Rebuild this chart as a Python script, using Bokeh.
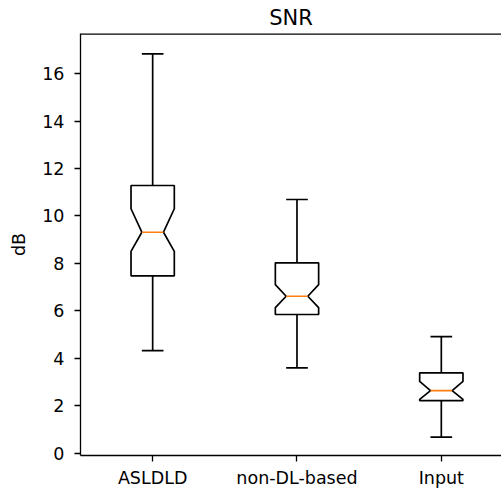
from bokeh.plotting import figure
from bokeh.models import Range1d, FixedTicker, Span
from bokeh.embed import file_html
from bokeh.resources import INLINE

# ---- data ----
categories = ["ASLDLD", "non-DL-based", "Input"]
positions = [1, 2, 3]
whisker_hi = [16.83, 10.69, 4.91]
q3 = [11.28, 8.02, 3.38]
notch_hi = [10.30, 7.10, 3.02]
median = [9.31, 6.61, 2.63]
notch_lo = [8.50, 6.13, 2.26]
q1 = [7.47, 5.84, 2.21]
whisker_lo = [4.32, 3.59, 0.67]
y_ticks = [0, 2, 4, 6, 8, 10, 12, 14, 16]

BOX_W = 0.3
FONT = "DejaVu Sans"
Y_LO, Y_HI = -0.105, 17.69

p = figure(
    frame_width=421, frame_height=422,
    output_backend="svg", toolbar_location=None,
    x_range=Range1d(0.5, 3.417), y_range=Range1d(Y_LO, Y_HI),
    title="SNR",
    min_border_left=80, min_border_right=0, min_border_top=33, min_border_bottom=35,
)
p.background_fill_color = "white"
p.border_fill_color = "white"
p.outline_line_color = None
p.xgrid.visible = False
p.ygrid.visible = False

p.title.align = "center"
p.title.offset = 5
p.title.text_font = FONT
p.title.text_font_size = "21px"
p.title.text_font_style = "normal"
p.title.text_color = "black"
p.title.standoff = 7

# boxes (notched)
xs, ys = [], []
for x, a, nl, m, nh, b in zip(positions, q1, notch_lo, median, notch_hi, q3):
    l, r = x - BOX_W / 2, x + BOX_W / 2
    nl_x, nr_x = x - BOX_W / 4, x + BOX_W / 4
    xs.append([l, l, nl_x, l, l, r, r, nr_x, r, r, l])
    ys.append([a, nl, m, nh, b, b, nh, m, nl, a, a])
p.patches(xs, ys, fill_color=None, line_color="black", line_width=1.7)

# whiskers
p.segment(x0=positions, y0=q3, x1=positions, y1=whisker_hi, line_color="black", line_width=1.7)
p.segment(x0=positions, y0=q1, x1=positions, y1=whisker_lo, line_color="black", line_width=1.7)

# caps
cap_l = [x - BOX_W / 4 for x in positions]
cap_r = [x + BOX_W / 4 for x in positions]
p.segment(x0=cap_l, y0=whisker_hi, x1=cap_r, y1=whisker_hi, line_color="black", line_width=1.7)
p.segment(x0=cap_l, y0=whisker_lo, x1=cap_r, y1=whisker_lo, line_color="black", line_width=1.7)

# medians
p.segment(x0=cap_l, y0=median, x1=cap_r, y1=median, line_color="#ff7f0e", line_width=1.7)

# axes styling
for ax in (p.xaxis[0], p.yaxis[0]):
    ax.axis_line_color = "black"
    ax.axis_line_width = 1.3
    ax.major_tick_line_color = "black"
    ax.major_tick_line_width = 1.3
    ax.major_tick_out = 6
    ax.major_tick_in = 0
    ax.minor_tick_line_color = None
    ax.major_label_text_font = FONT
    ax.major_label_text_font_size = "17.5px"
    ax.major_label_text_color = "black"

p.xaxis.ticker = FixedTicker(ticks=positions)
p.xaxis.major_label_overrides = {pos: name for pos, name in zip(positions, categories)}
p.xaxis.major_label_standoff = 6

p.yaxis.ticker = FixedTicker(ticks=y_ticks)
p.yaxis.major_label_standoff = 10
p.yaxis.axis_label = "dB"
p.yaxis.axis_label_text_font = FONT
p.yaxis.axis_label_text_font_size = "17.5px"
p.yaxis.axis_label_text_font_style = "normal"
p.yaxis.axis_label_text_color = "black"
p.yaxis.axis_label_standoff = 10

# top spine
p.add_layout(Span(location=Y_HI, dimension="width", line_color="black", line_width=2.6))

open("out.html", "w").write(file_html(p, INLINE))
